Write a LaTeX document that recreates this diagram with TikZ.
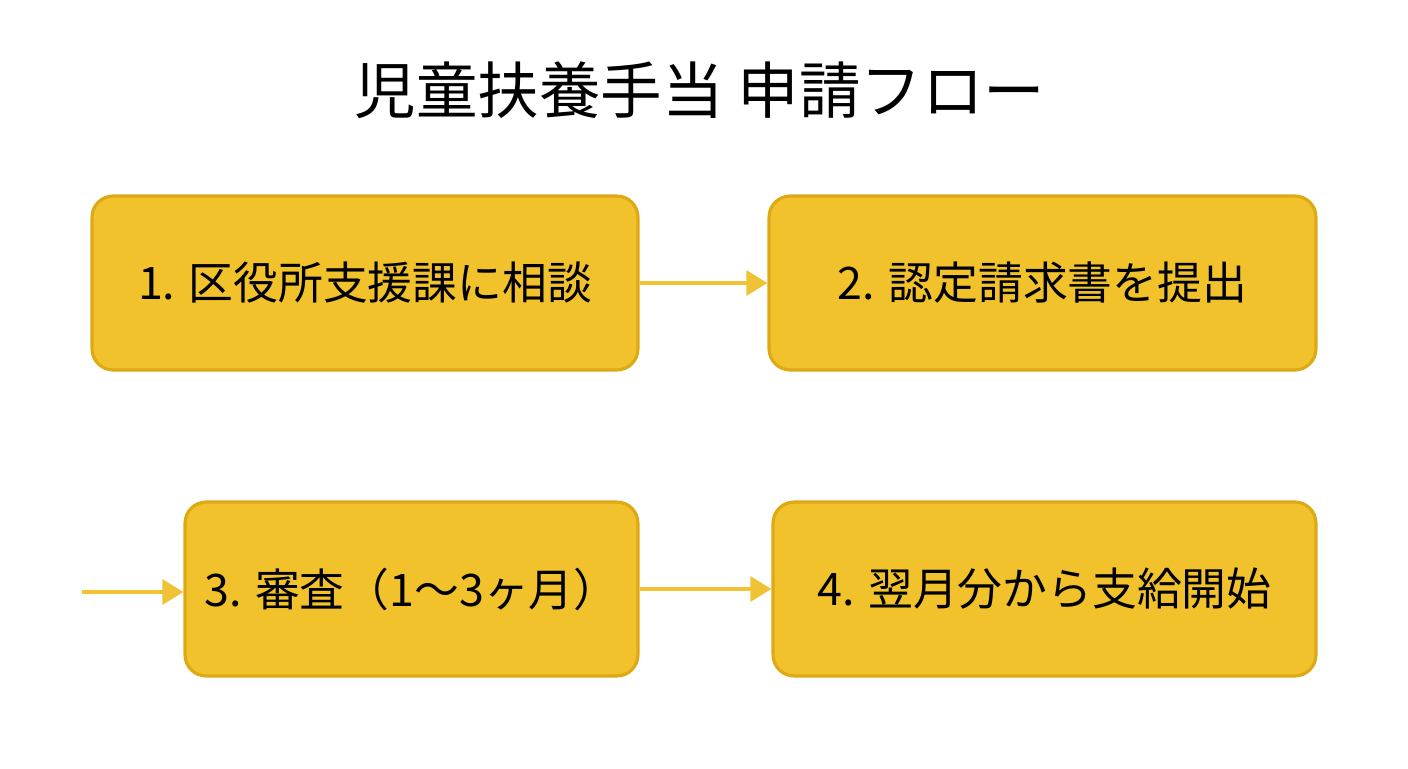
\documentclass[tikz,border=0pt]{standalone}
\usepackage{fontspec}
\setmainfont{Noto Sans CJK JP}
\usetikzlibrary{positioning,arrows.meta}
\definecolor{stepfill}{HTML}{F1C22C}
\definecolor{stepedge}{HTML}{DDA915}
\definecolor{flowarrow}{HTML}{F0C235}
\begin{document}
\begin{tikzpicture}[
  x=0.02cm, y=-0.02cm,
  stepbox/.style = {
    draw=stepedge,
    line width=1.8pt,
    fill=stepfill,
    rounded corners=12pt,
    minimum height=3.48cm,
    font=\fontsize{25.5}{30}\selectfont,
    align=center
  },
  flow/.style = {flowarrow, line width=2.5pt, -{Triangle[length=12pt,width=14pt]}},
]
  \useasboundingbox (0,0) rectangle (1408,768);
  \node (title) at (700,90) {\fontsize{35}{40}\selectfont 児童扶養手当 申請フロー};

  \node (consult)[stepbox, minimum width=10.92cm] at (365,283) {1. 区役所支援課に相談};
  \node (submit)[stepbox, minimum width=10.94cm] at (1042.5,283) {2. 認定請求書を提出};
  \node (review)[stepbox, minimum width=9.06cm] at (411.5,589) {3. 審査（1〜3ヶ月）};
  \node (payment)[stepbox, minimum width=10.86cm] at (1044.5,589) {4. 翌月分から支給開始};
  \coordinate (entry) at (82,592);

  \draw[flow] (consult) -- (submit);
  \draw[flow] (entry) -- (review.west |- entry);
  \draw[flow] (review) -- (payment);
\end{tikzpicture}
\end{document}
